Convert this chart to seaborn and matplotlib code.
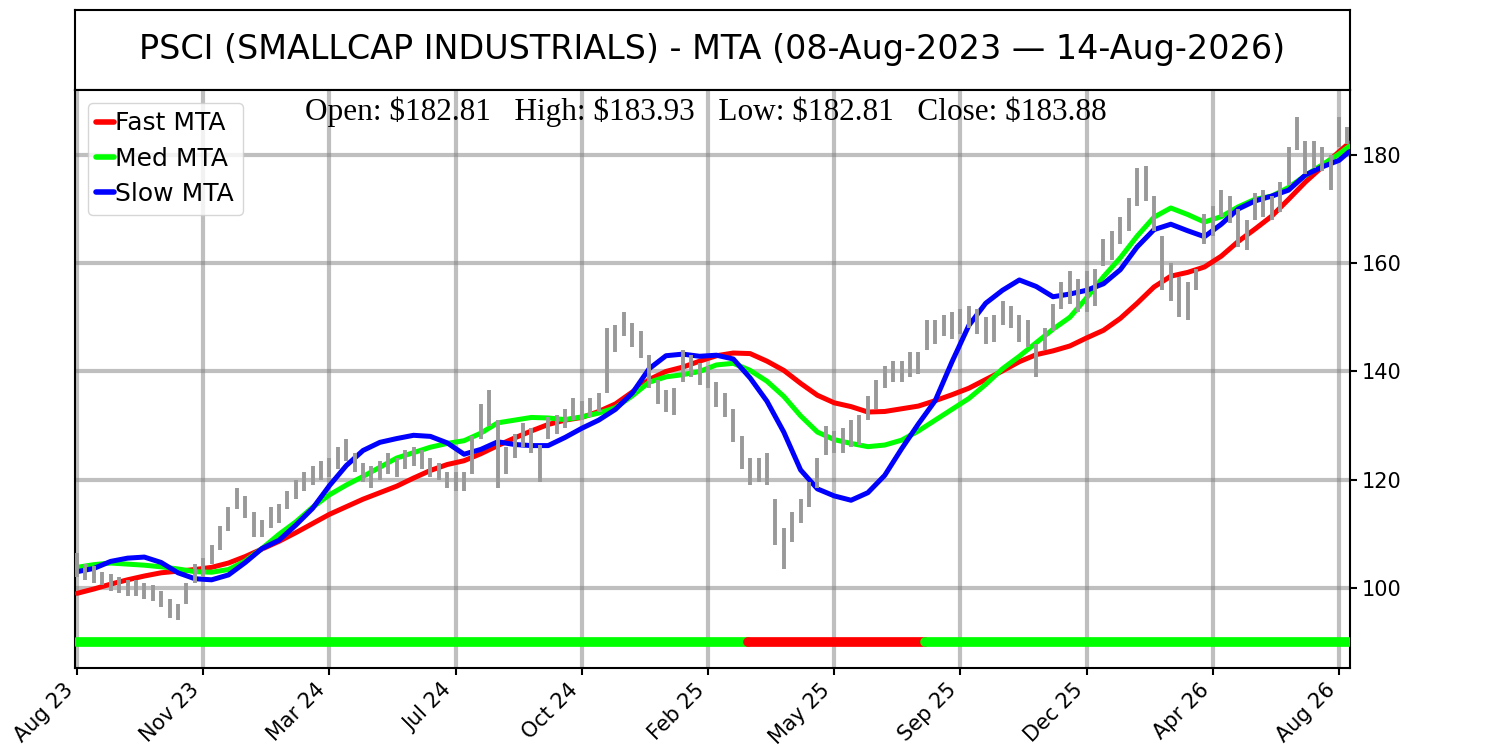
import numpy as np
import pandas as pd
import matplotlib
matplotlib.use("Agg")
import matplotlib.pyplot as plt
from matplotlib.lines import Line2D
import seaborn as sns

title = "PSCI (SMALLCAP INDUSTRIALS) - MTA (08-Aug-2023 \u2014 14-Aug-2026)"
last_open, last_high, last_low, last_close = 182.81, 183.93, 182.81, 183.88

# date labels, one every 75 sessions
tick_labels = ["Aug 23", "Nov 23", "Mar 24", "Jul 24", "Oct 24", "Feb 25",
               "May 25", "Sep 25", "Dec 25", "Apr 26", "Aug 26"]
tick_step = 75

# weekly price range (one bar every 5 sessions)
week_step = 5
week_lo = [
    102, 101.5, 101, 100.5, 99.5, 99, 98.5, 98.5, 98, 97.5,
    96.5, 94.5, 94, 97, 101, 102, 104.5, 107, 110.5, 114.5,
    113, 109.5, 109.5, 111, 112, 114.5, 116.5, 118, 119, 120,
    120.5, 122, 123.5, 121.5, 119.5, 118.5, 120, 121, 120.5, 122,
    122.5, 122, 120.5, 120, 118.5, 118, 118, 121, 127.5, 130,
    118.5, 121, 124, 126, 125, 119.5, 127.5, 128.5, 129.5, 131,
    131, 131.5, 132.5, 136, 143.5, 146.5, 144.5, 142.5, 137, 134,
    132.5, 132, 138, 139, 137.5, 137, 133.5, 131.5, 127, 122,
    119, 119.5, 119, 108, 103.5, 108.5, 112, 115, 118.5, 124.5,
    125, 125, 126, 126.5, 131, 133, 137, 138, 138, 139,
    139.5, 144, 145, 146.5, 146, 147, 148, 147, 145, 145.5,
    148.5, 148, 145.5, 144.5, 139, 144, 147.5, 151.5, 152.5, 151,
    151, 152, 159.5, 160.5, 163.5, 166, 170.5, 171.5, 166, 155,
    153, 150, 149.5, 155, 163.5, 165, 168.5, 167.5, 163, 162.5,
    168, 168.5, 168, 169.5, 174.5, 181, 176.5, 177.5, 177, 173.5,
    181.5, 182,
]
week_hi = [
    106.5, 104.5, 104, 103, 102.5, 102, 101.5, 101.5, 101, 100.5,
    99.5, 98, 97, 101, 104.5, 105.5, 108, 111.5, 115, 118.5,
    117, 114, 112.5, 115, 115.5, 118, 120, 121.5, 122.5, 123.5,
    124, 126, 127.5, 125, 123, 122.5, 123.5, 125, 124, 125.5,
    126, 125.5, 124, 123, 121.5, 121.5, 121.5, 128, 134, 136.5,
    131, 126, 128.5, 130.5, 129.5, 126.5, 131.5, 132, 133, 135,
    134.5, 135, 136, 148, 148.5, 151, 149, 147.5, 143, 138.5,
    136.5, 137, 144, 143, 141.5, 141, 138, 136, 133, 128,
    124, 124, 125, 116.5, 111, 114, 116.5, 119.5, 124, 130,
    129, 129.5, 131, 132, 135.5, 138.5, 141, 142, 142, 143.5,
    143.5, 149.5, 149.5, 150.5, 151, 151.5, 152, 151.5, 150, 150.5,
    153, 152, 150.5, 149.5, 145, 148, 152.5, 156.5, 158.5, 157,
    158.5, 159, 164.5, 166, 168.5, 172, 177.5, 178, 172.5, 165,
    160, 157.5, 156.5, 159, 169, 170.5, 173.5, 172.5, 170, 168,
    173, 173.5, 172.5, 175, 181.5, 187, 182.5, 182.5, 181.5, 180,
    187, 185.2,
]

# moving averages sampled every 10 sessions, last point at session 756
ma_bars = list(range(0, 751, 10)) + [756]
fast_mta = [
    99.0, 99.8, 100.7, 101.5, 102.2, 102.8, 103.1, 103.4, 103.8, 104.6,
    105.8, 107.2, 108.6, 110.2, 111.9, 113.6, 115.0, 116.4, 117.6, 118.8,
    120.3, 121.7, 122.8, 123.5, 124.8, 126.3, 127.7, 129.0, 130.2, 131.0,
    131.5, 132.6, 134.0, 136.2, 138.5, 140.0, 140.8, 141.9, 142.9, 143.4,
    143.3, 141.9, 140.2, 137.8, 135.6, 134.2, 133.5, 132.5, 132.6, 133.1,
    133.6, 134.6, 135.7, 136.9, 138.5, 140.1, 141.8, 143.1, 143.8, 144.7,
    146.2, 147.6, 149.8, 152.6, 155.6, 157.6, 158.3, 159.3, 161.3, 164.0,
    166.3, 168.7, 171.8, 175.0, 177.8, 180.6, 182.2,
]
med_mta = [
    103.8, 104.3, 104.6, 104.4, 104.2, 103.9, 103.5, 103.0, 102.9, 103.4,
    105.0, 107.3, 109.9, 112.2, 114.9, 117.2, 119.0, 120.6, 122.3, 124.0,
    125.0, 126.0, 126.7, 127.2, 128.6, 130.5, 131.0, 131.5, 131.4, 131.1,
    131.6, 132.3, 133.3, 135.5, 138.0, 139.0, 139.4, 140.0, 141.2, 141.5,
    140.2, 138.2, 135.4, 131.8, 128.8, 127.4, 126.7, 126.1, 126.4, 127.3,
    129.0, 131.0, 133.0, 135.0, 137.6, 140.5, 142.8, 145.3, 147.8, 150.0,
    153.6, 157.5, 161.0, 165.0, 168.5, 170.2, 169.0, 167.6, 168.6, 170.4,
    171.8, 172.4, 174.0, 176.2, 178.2, 180.2, 181.6,
]
slow_mta = [
    103.0, 103.6, 104.9, 105.5, 105.7, 104.7, 102.8, 101.7, 101.5, 102.4,
    104.7, 107.3, 108.8, 111.6, 114.7, 118.9, 122.6, 125.4, 126.9, 127.6,
    128.2, 128.0, 126.8, 124.7, 125.6, 127.0, 126.5, 126.3, 126.3, 127.8,
    129.5, 131.0, 133.0, 136.0, 140.5, 142.9, 143.2, 142.8, 143.0, 142.3,
    138.8, 134.5, 128.8, 121.8, 118.3, 117.0, 116.2, 117.6, 120.8, 125.7,
    130.3, 134.6, 141.8, 148.5, 152.6, 155.0, 156.9, 155.7, 153.8, 154.3,
    155.0, 156.2, 158.8, 163.0, 166.2, 167.2, 166.0, 164.9, 167.2, 170.0,
    171.5, 172.4, 173.5, 176.3, 177.8, 179.0, 180.6,
]

# trend signal strip: session boundaries and state of each stretch
signal_bounds = [0, 399, 504, 756]
signal_trend = ["up", "down", "up"]
signal_level = 90

sns.set_style("ticks")
plt.rcParams["font.family"] = ["DejaVu Sans"]
plt.rcParams["text.color"] = "black"
plt.rcParams["xtick.color"] = "black"
plt.rcParams["ytick.color"] = "black"

fig = plt.figure(figsize=(15, 7.5), dpi=100)

# title box
ax_t = fig.add_axes([0.05, 0.88, 0.85, 0.1067])
ax_t.set_xticks([])
ax_t.set_yticks([])
for s in ax_t.spines.values():
    s.set_color("black")
    s.set_linewidth(1.5)
ax_t.text(0.5, 0.5, title, ha="center", va="center", fontsize=24, color="black")

ax = fig.add_axes([0.05, 0.1093, 0.85, 0.7707])

colors = {"Fast MTA": "#ff0000", "Med MTA": "#00ff00", "Slow MTA": "#0000ff"}
n = len(ma_bars)
ma_df = pd.DataFrame({
    "bar": ma_bars * 3,
    "value": fast_mta + med_mta + slow_mta,
    "series": ["Fast MTA"] * n + ["Med MTA"] * n + ["Slow MTA"] * n,
})
sns.lineplot(data=ma_df, x="bar", y="value", hue="series", palette=colors,
             estimator=None, linewidth=3.6, ax=ax, legend=False, zorder=3)

# price bars
week_pos = np.arange(len(week_lo)) * week_step
ax.vlines(week_pos, week_lo, week_hi, color="#999999", linewidth=2.8, zorder=4)

# signal strip
band_colors = {"up": "#00ff00", "down": "#ff0000"}
for k, trend in enumerate(signal_trend):
    ax.plot([signal_bounds[k], signal_bounds[k + 1]], [signal_level, signal_level],
            color=band_colors[trend], lw=7, solid_capstyle="round", zorder=5)

ax.text(0.495, 0.988,
        f"Open: ${last_open:.2f}   High: ${last_high:.2f}   "
        f"Low: ${last_low:.2f}   Close: ${last_close:.2f}",
        transform=ax.transAxes, ha="center", va="top", fontsize=22.5,
        color="black", family=["Liberation Serif", "DejaVu Serif"],
        parse_math=False, zorder=6)

handles = [Line2D([], [], color=c, lw=4) for c in colors.values()]
leg = ax.legend(handles, list(colors), loc="upper left", fontsize=18,
                handlelength=0.7, handletextpad=0.05, borderpad=0.35,
                labelspacing=0.45, framealpha=0.8)
for t in leg.get_texts():
    t.set_color("black")

ax.set_xticks(np.arange(len(tick_labels)) * tick_step)
ax.set_xticklabels(tick_labels, rotation=45, ha="right", fontsize=15)
ax.yaxis.tick_right()
ax.set_yticks([100, 120, 140, 160, 180])
ax.tick_params(axis="y", labelsize=15)
ax.tick_params(length=5, width=1.5, color="black", labelcolor="black")
ax.grid(True, color="gray", alpha=0.5, lw=3)
ax.set_axisbelow(True)
ax.set_xlim(-1.2, 756.5)
ax.set_ylim(85.2, 192)
ax.set_xlabel("")
ax.set_ylabel("")
for s in ax.spines.values():
    s.set_visible(True)
    s.set_color("black")
    s.set_linewidth(1.5)

fig.savefig("out.png", dpi=100)
